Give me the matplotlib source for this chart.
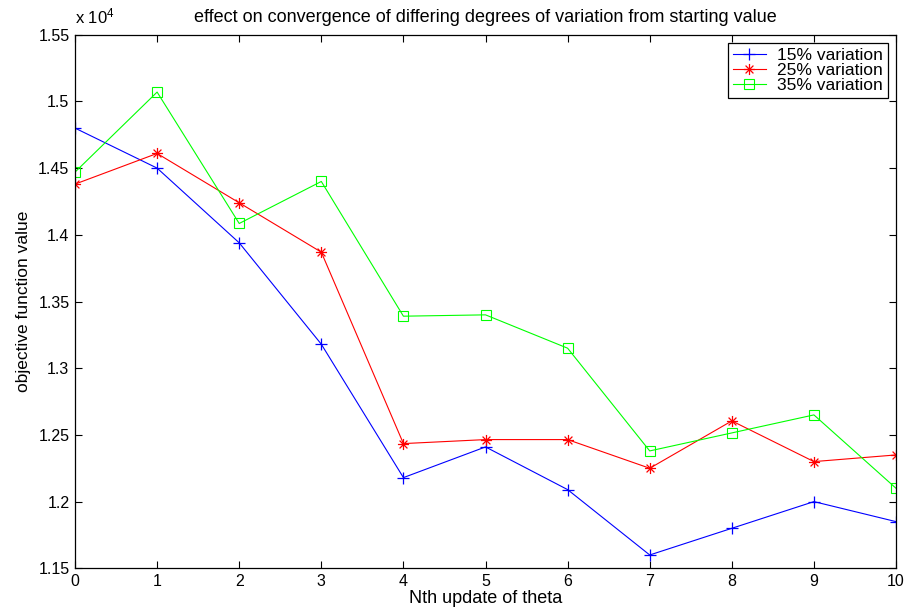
import matplotlib
matplotlib.use('Agg')
import matplotlib.pyplot as plt
from matplotlib.path import Path
from matplotlib.ticker import FuncFormatter

plt.rcParams['font.family'] = ['Liberation Sans', 'DejaVu Sans']
plt.rcParams['mathtext.fontset'] = 'custom'
plt.rcParams['mathtext.rm'] = 'Liberation Sans'
plt.rcParams['mathtext.it'] = 'Liberation Sans'

updates = list(range(0, 11))
var15 = [14800, 14500, 13940, 13180, 12180, 12410, 12090, 11600, 11800, 12000, 11850]
var25 = [14380, 14610, 14240, 13870, 12435, 12465, 12465, 12250, 12605, 12300, 12350]
var35 = [14470, 15070, 14085, 14400, 13390, 13400, 13150, 12380, 12515, 12650, 12100]
labels = ['15% variation', '25% variation', '35% variation']

# eight-armed asterisk marker (line strokes only)
arms = [(1, 0), (0.707, 0.707), (0, 1), (-0.707, 0.707)]
verts, codes = [], []
for cx, cy in arms:
    verts += [(cx, cy), (-cx, -cy)]
    codes += [Path.MOVETO, Path.LINETO]
asterisk = Path(verts, codes)

fig = plt.figure(figsize=(9.07, 6.09), dpi=100)
ax = fig.add_axes([0.0827, 0.0668, 0.9052, 0.8762])

ax.plot(updates, var15, color=(0, 0, 1), marker='+', markersize=8.5, markeredgewidth=0.9,
        linewidth=0.8, label=labels[0])
ax.plot(updates, var25, color=(1, 0, 0), marker=asterisk, markersize=8, markeredgewidth=0.9,
        markerfacecolor='none', linewidth=0.8, label=labels[1])
ax.plot(updates, var35, color=(0, 1, 0), marker='s', markersize=6.5, markerfacecolor='none',
        markeredgewidth=0.8, linewidth=0.8, label=labels[2])

ax.set_xlim(0, 10)
ax.set_ylim(11500, 15500)
ax.set_xticks(range(0, 11))
ax.set_yticks([11500 + 500 * i for i in range(9)])
ax.yaxis.set_major_formatter(FuncFormatter(lambda v, p: '%g' % (v / 1e4)))
ax.tick_params(direction='in', length=5, width=0.8, top=True, right=True, labelsize=11.5, pad=4)
for s in ax.spines.values():
    s.set_linewidth(0.9)

ax.text(0.0, 1.015, r'x 10$^{4}$', transform=ax.transAxes, fontsize=12, ha='left', va='bottom')
ax.set_title('effect on convergence of differing degrees of variation from starting value',
             fontsize=13, pad=9)
ax.set_xlabel('Nth update of theta', fontsize=13, labelpad=1)
ax.set_ylabel('objective function value', fontsize=12.5, labelpad=5)

leg = ax.legend(loc='upper right', fontsize=12.5, fancybox=False, framealpha=1, edgecolor='black',
                borderaxespad=0.45, handlelength=1.9, labelspacing=0.0, borderpad=0.3,
                handletextpad=0.65)
leg.get_frame().set_linewidth(0.9)

fig.savefig('out.png', dpi=100)
